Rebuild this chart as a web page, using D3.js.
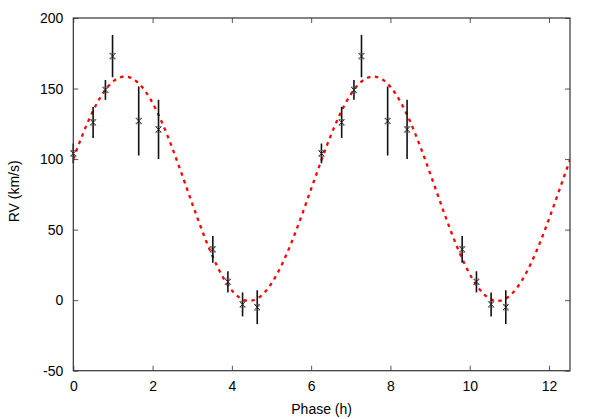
<!DOCTYPE html>
<head>
<meta charset="utf-8">
<title>RV curve</title>
<style>
body {
  margin: 0;
  background: #ffffff;
}
text {
  font-family: "Liberation Sans", Arial, sans-serif;
  font-size: 14px;
  fill: #000000;
}
.frame {
  fill: none;
  stroke: #333333;
  stroke-width: 1.2px;
}
.axis path {
  display: none;
}
.axis line {
  stroke: #555555;
  stroke-width: 1px;
}
.fit {
  fill: none;
  stroke: #ff0000;
  stroke-width: 2.3px;
  stroke-dasharray: 3.5, 4.5;
}
.errbar {
  stroke: #111111;
  stroke-width: 1.6px;
}
.marker {
  stroke: #222222;
  stroke-width: 1px;
  fill: none;
}
.cap {
  stroke: #555555;
  stroke-width: 0.8px;
  fill: none;
}
</style>
</head>
<body>
<svg id="chart" width="598" height="419"></svg>
<script src="https://cdnjs.cloudflare.com/ajax/libs/d3/7.8.5/d3.min.js"></script>
<script>
// measured RV points (two cycles of the same data, phase in hours)
const phase = [0.00, 0.50, 0.81, 0.99, 1.65, 2.15, 3.52, 3.90, 4.27, 4.64,
               6.26, 6.77, 7.08, 7.27, 7.93, 8.42, 9.81, 10.17, 10.54, 10.91];
const rv    = [104, 126, 149, 173, 127, 121, 36, 13, -3, -5,
               104, 126, 149, 173, 127, 121, 36, 13, -3, -5];
const rvErr = [7, 11, 7, 15, 24.5, 21, 9.5, 7.5, 8.5, 12,
               7, 11, 7, 15, 24.5, 21, 9.5, 7.5, 8.5, 12];

// sine fit
const fitMean = 79;
const fitAmp = 79.5;
const fitPeriod = 6.27;
const fitPeak = 1.30;

const xTicks = [0, 2, 4, 6, 8, 10, 12];
const yTicks = [-50, 0, 50, 100, 150, 200];

const margin = {top: 18, right: 28, bottom: 48.3, left: 73.3};
const width = 598 - margin.left - margin.right;
const height = 419 - margin.top - margin.bottom;

const svg = d3.select("#chart");
const g = svg.append("g").attr("transform", `translate(${margin.left},${margin.top})`);

const x = d3.scaleLinear().domain([0, 12.53]).range([0, width]);
const y = d3.scaleLinear().domain([-50, 200]).range([height, 0]);

g.append("clipPath").attr("id", "clip")
  .append("rect").attr("width", width).attr("height", height);

// axes, ticks pointing inward
g.append("g").attr("class", "axis")
  .attr("transform", `translate(0,${height})`)
  .call(d3.axisBottom(x).tickValues(xTicks).tickSize(-5).tickPadding(10).tickFormat(d => String(d)));
g.append("g").attr("class", "axis")
  .call(d3.axisLeft(y).tickValues(yTicks).tickSize(-5).tickPadding(10).tickFormat(d => String(d)));
g.append("g").attr("class", "axis")
  .call(d3.axisTop(x).tickValues(xTicks).tickSize(-5).tickFormat(""));
g.append("g").attr("class", "axis")
  .attr("transform", `translate(${width},0)`)
  .call(d3.axisRight(y).tickValues(yTicks).tickSize(-5).tickFormat(""));

g.selectAll(".axis text").style("font-size", "14px").attr("fill", "#000");

// fit curve
const fitPhases = d3.range(0, 12.55, 0.02);
const line = d3.line()
  .x(d => x(d))
  .y(d => y(fitMean + fitAmp * Math.cos(2 * Math.PI * (d - fitPeak) / fitPeriod)));

g.append("path")
  .datum(fitPhases)
  .attr("class", "fit")
  .attr("clip-path", "url(#clip)")
  .attr("d", line);

// error bars and markers
const pts = phase.map((p, i) => ({p: p, v: rv[i], e: rvErr[i]}));

const pg = g.append("g").selectAll("g")
  .data(pts)
  .enter()
  .append("g")
  .attr("transform", d => `translate(${x(d.p)},${y(d.v)})`);

pg.append("line")
  .attr("class", "errbar")
  .attr("x1", 0).attr("x2", 0)
  .attr("y1", d => y(d.v + d.e) - y(d.v))
  .attr("y2", d => y(d.v - d.e) - y(d.v));

const s = 2.8;
pg.append("path")
  .attr("class", "marker")
  .attr("d", `M${-s},${-s}L${s},${s}M${-s},${s}L${s},${-s}`);
pg.append("path")
  .attr("class", "cap")
  .attr("d", `M${-s},${-s}H${s}M${-s},${s}H${s}`);

g.append("rect")
  .attr("class", "frame")
  .attr("width", width)
  .attr("height", height);

// axis titles
g.append("text")
  .attr("x", width / 2)
  .attr("y", height + 43.5)
  .attr("text-anchor", "middle")
  .text("Phase (h)");

svg.append("text")
  .attr("transform", `translate(18.5,${margin.top + height / 2 - 3}) rotate(-90)`)
  .attr("text-anchor", "middle")
  .text("RV (km/s)");
</script>
</body>
</html>
